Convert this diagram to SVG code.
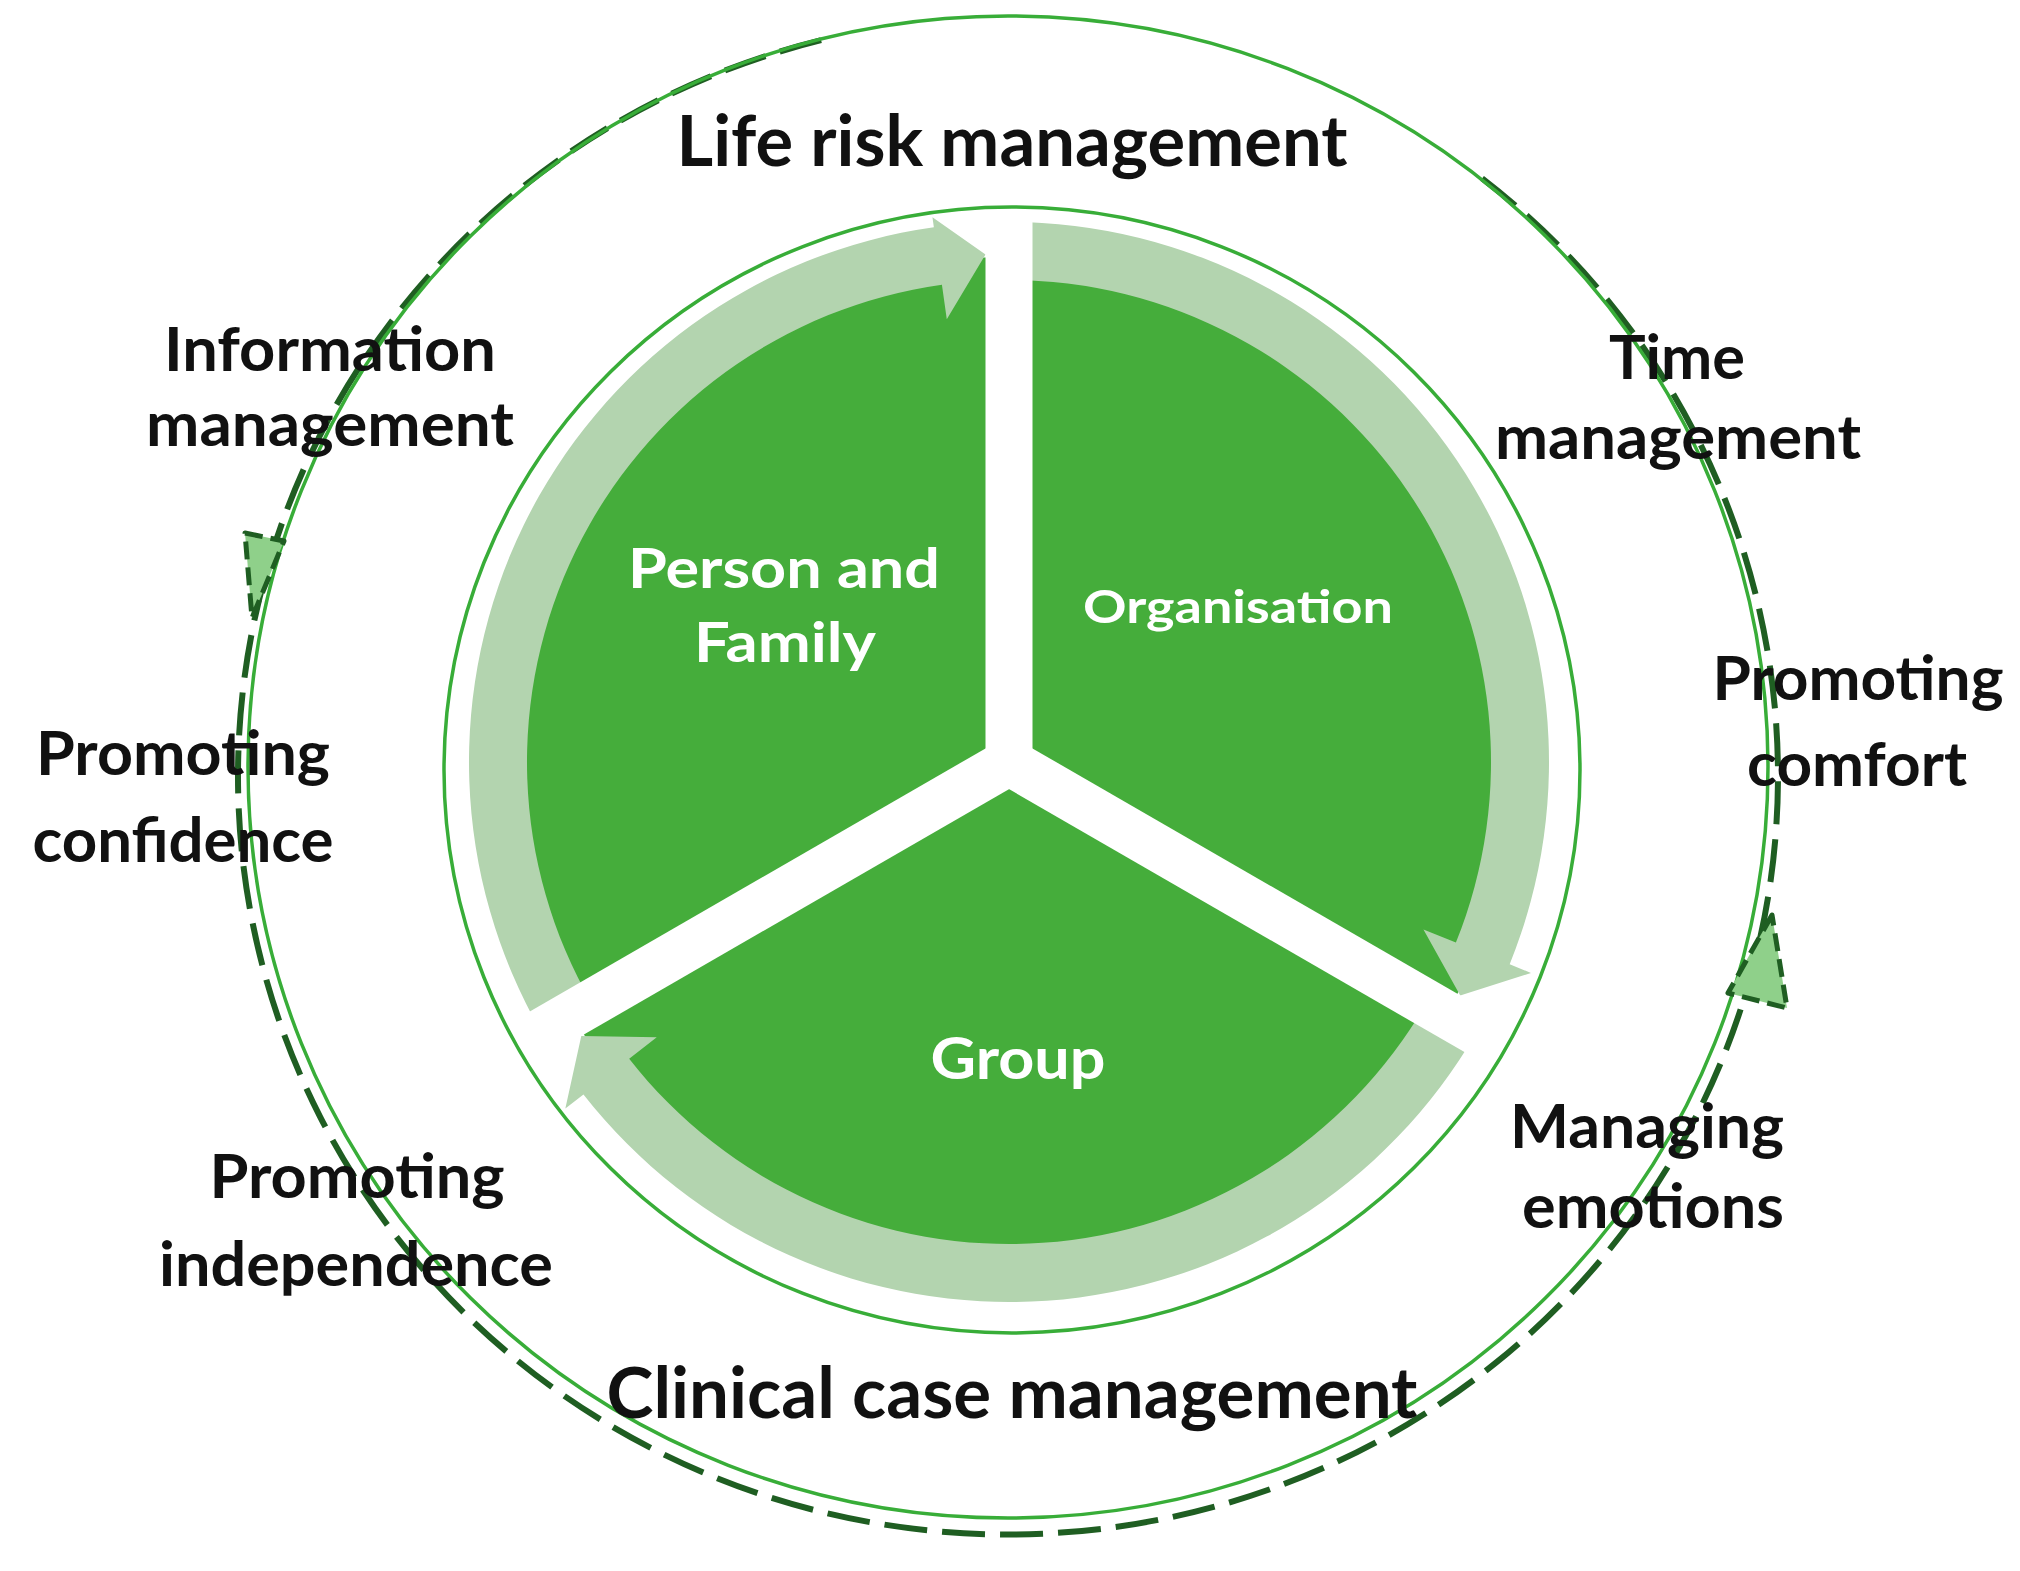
<svg xmlns="http://www.w3.org/2000/svg" width="2020" height="1571" viewBox="0 0 2020 1571">
<style>
.lbl{font-family:Lato,"Open Sans","Liberation Sans",sans-serif;font-weight:700;fill:#111;text-anchor:middle}
.big{font-size:70px}
.sm{font-size:62px}
.wt{fill:#fff}
.dark{fill:#45ad3b}
.band{fill:#b3d4af}
.ring{fill:none;stroke:#38ad38;stroke-width:3.5}
.dash{fill:none;stroke:#1f5e22;stroke-width:6;stroke-dasharray:43 15}
.head{fill:#8fd08a;stroke:#1f5e22;stroke-width:5;stroke-dasharray:18 8;stroke-linejoin:round}
.gap{stroke:#fff;stroke-width:47;fill:none}
</style>
<rect width="2020" height="1571" fill="#fff"/>
<g id="connectors">
<path class="dash" d="M1482.1,178.3 A770,758.5 0 1 1 821.7,40"/>
<ellipse class="ring" cx="1008" cy="767" rx="760" ry="751"/>
<polygon class="head" points="245,533 284,541 252,618"/>
<polygon class="head" points="1772,915 1728,993 1787,1008"/>
</g>
<g id="core">
<circle class="dark" cx="1009" cy="762" r="505"/>
<path class="band" d="M541.34,1032 A540,540 0 0 1 933.85,227.25 L932.46,217.35 L985.52,254.54 L946.79,319.35 L941.92,284.69 A482,482 0 0 0 591.57,1003 Z"/>
<path class="band" d="M1009,222 A540,540 0 0 1 1509.68,964.29 L1531,972.91 L1460.22,995.39 L1423.45,929.45 L1455.9,942.56 A482,482 0 0 0 1009,280 Z"/>
<path class="band" d="M1476.66,1032 A540,540 0 0 1 583.47,1094.46 L565.35,1108.62 L581.29,1036.09 L656.76,1037.2 L629.18,1058.75 A482,482 0 0 0 1426.43,1003 Z"/>
<g id="dividers">
<line class="gap" x1="1009" y1="774" x2="1009" y2="202"/>
<line class="gap" x1="998.6" y1="756" x2="1494" y2="1042"/>
<line class="gap" x1="1019.4" y1="756" x2="524" y2="1042"/>
</g>
<ellipse class="ring" cx="1012" cy="770" rx="568" ry="563"/>
</g>
<g id="node-person-family"><text class="lbl wt" font-size="55" x="784" y="588" textLength="312" lengthAdjust="spacingAndGlyphs">Person and</text><text class="lbl wt" font-size="55" x="785" y="662" textLength="182" lengthAdjust="spacingAndGlyphs">Family</text></g>
<g id="node-organisation"><text class="lbl wt" font-size="45" x="1238" y="623" textLength="310" lengthAdjust="spacingAndGlyphs">Organisation</text></g>
<g id="node-group"><text class="lbl wt" font-size="57" x="1018" y="1079" textLength="175" lengthAdjust="spacingAndGlyphs">Group</text></g>
<g id="node-life-risk"><text class="lbl big" x="1012" y="166" textLength="671" lengthAdjust="spacingAndGlyphs">Life risk management</text></g>
<g id="node-clinical"><text class="lbl big" x="1012" y="1418" textLength="811" lengthAdjust="spacingAndGlyphs">Clinical case management</text></g>
<g id="node-information"><text class="lbl sm" x="330" y="371" textLength="332" lengthAdjust="spacingAndGlyphs">Information</text><text class="lbl sm" x="330" y="446" textLength="368" lengthAdjust="spacingAndGlyphs">management</text></g>
<g id="node-time"><text class="lbl sm" x="1677" y="379" textLength="136" lengthAdjust="spacingAndGlyphs">Time</text><text class="lbl sm" x="1678" y="459" textLength="366" lengthAdjust="spacingAndGlyphs">management</text></g>
<g id="node-confidence"><text class="lbl sm" x="183" y="775" textLength="294" lengthAdjust="spacingAndGlyphs">Promoting</text><text class="lbl sm" x="183" y="862" textLength="301" lengthAdjust="spacingAndGlyphs">confidence</text></g>
<g id="node-comfort"><text class="lbl sm" x="1858" y="700" textLength="291" lengthAdjust="spacingAndGlyphs">Promoting</text><text class="lbl sm" x="1857" y="786" textLength="220" lengthAdjust="spacingAndGlyphs">comfort</text></g>
<g id="node-emotions"><text class="lbl sm" x="1647" y="1148" textLength="274" lengthAdjust="spacingAndGlyphs">Managing</text><text class="lbl sm" x="1653" y="1228" textLength="262" lengthAdjust="spacingAndGlyphs">emotions</text></g>
<g id="node-independence"><text class="lbl sm" x="357" y="1198" textLength="295" lengthAdjust="spacingAndGlyphs">Promoting</text><text class="lbl sm" x="356" y="1286" textLength="394" lengthAdjust="spacingAndGlyphs">independence</text></g>
</svg>
